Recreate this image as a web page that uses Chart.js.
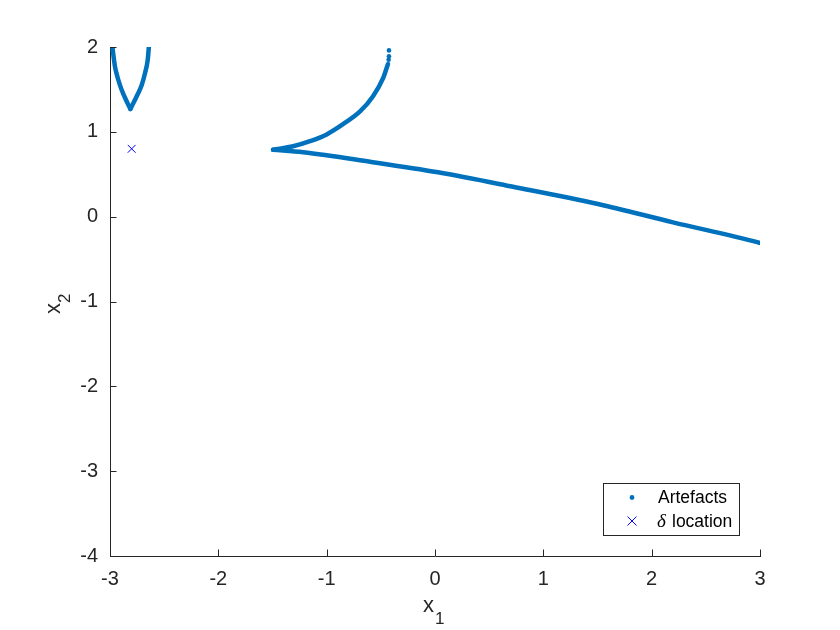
<!DOCTYPE html>
<html>
<head>
<meta charset="utf-8">
<script src="https://cdn.jsdelivr.net/npm/chart.js@4.4.1/dist/chart.umd.min.js"></script>
<style>
  html, body { margin: 0; padding: 0; background: #ffffff; }
  #wrap { width: 840px; height: 630px; }
</style>
</head>
<body>
<div id="wrap"><canvas id="c" width="840" height="630"></canvas></div>
<script>
// ---- data ----
const xTicks = [-3, -2, -1, 0, 1, 2, 3];
const yTicks = [-4, -3, -2, -1, 0, 1, 2];

// small cusp near x1 = -2.8 (left branch, then right branch)
const cuspLeftX  = [-2.98, -2.954, -2.923, -2.892, -2.852, -2.812];
const cuspLeftY  = [2.02, 1.768, 1.611, 1.493, 1.375, 1.27];
const cuspRightX = [-2.812, -2.785, -2.748, -2.707, -2.677, -2.652, -2.64];
const cuspRightY = [1.27, 1.336, 1.434, 1.552, 1.690, 1.847, 2.02];

// large curve: upper branch from the cusp at (-1.5, 0.8)
const upperX = [-1.495, -1.31, -1.154, -1.0, -0.849, -0.692, -0.572, -0.48, -0.434];
const upperY = [0.79, 0.83, 0.89, 0.97, 1.09, 1.24, 1.42, 1.63, 1.80];
// isolated dots at the top end of the upper branch
const upperDotsX = [-0.428, -0.425, -0.425];
const upperDotsY = [1.85, 1.89, 1.96];

// large curve: lower branch
const lowerX = [-1.495, -1.218, -0.6, 0.028, 0.72, 1.505, 2.197, 2.982, 3.0];
const lowerY = [0.788, 0.759, 0.648, 0.523, 0.353, 0.149, -0.067, -0.303, -0.31];

// delta location
const deltaX = [-2.8];
const deltaY = [0.8];

const legendLabels = ['Artefacts', 'location'];

// ---- helpers ----
const pts = (xs, ys) => xs.map((x, i) => ({ x: x, y: ys[i] }));
const BLUE = '#0072BD';
const AX = '#262626';
const FONT = '"Liberation Sans", Arial, Helvetica, sans-serif';
const SERIF = '"Liberation Serif", "Times New Roman", serif';

function curve(xs, ys) {
  return {
    label: legendLabels[0],
    data: pts(xs, ys),
    showLine: true,
    borderColor: BLUE,
    backgroundColor: BLUE,
    borderWidth: 4.5,
    pointRadius: 0,
    cubicInterpolationMode: 'monotone',
    clip: 0,
    borderCapStyle: 'round',
    borderJoinStyle: 'round'
  };
}

const overlay = {
  id: 'overlay',
  afterDraw(chart) {
    const ctx = chart.ctx;
    const xs = chart.scales.x, ys = chart.scales.y;
    const ca = chart.chartArea;
    ctx.save();
    // inward tick marks
    ctx.strokeStyle = AX;
    ctx.lineWidth = 1;
    ctx.beginPath();
    xTicks.forEach(v => {
      const p = Math.round(xs.getPixelForValue(v)) + 0.5;
      ctx.moveTo(p, ca.bottom);
      ctx.lineTo(p, ca.bottom - 6.5);
    });
    yTicks.forEach(v => {
      const p = Math.round(ys.getPixelForValue(v)) + 0.5;
      ctx.moveTo(ca.left, p);
      ctx.lineTo(ca.left + 6.5, p);
    });
    ctx.stroke();

    // axis titles with subscripts
    ctx.fillStyle = AX;
    ctx.textBaseline = 'alphabetic';
    ctx.textAlign = 'left';
    ctx.font = '22px ' + FONT;
    ctx.fillText('x', 423, 612);
    ctx.font = '17px ' + FONT;
    ctx.fillText('1', 435, 624);

    ctx.save();
    ctx.translate(60, 305);
    ctx.rotate(-Math.PI / 2);
    ctx.font = '22px ' + FONT;
    ctx.fillText('x', -9, 0);
    ctx.font = '17px ' + FONT;
    ctx.fillText('2', 2, 10);
    ctx.restore();

    // legend
    const lx = 603.5, ly = 483.5, lw = 136, lh = 52;
    ctx.fillStyle = '#ffffff';
    ctx.fillRect(lx, ly, lw, lh);
    ctx.strokeStyle = AX;
    ctx.lineWidth = 1;
    ctx.strokeRect(lx, ly, lw, lh);
    ctx.fillStyle = BLUE;
    ctx.beginPath();
    ctx.arc(632, 497.5, 2.4, 0, Math.PI * 2);
    ctx.fill();
    ctx.strokeStyle = '#0000FF';
    ctx.lineWidth = 1;
    ctx.beginPath();
    ctx.moveTo(627.5, 516.5); ctx.lineTo(636.5, 525.5);
    ctx.moveTo(636.5, 516.5); ctx.lineTo(627.5, 525.5);
    ctx.stroke();
    ctx.fillStyle = '#000000';
    ctx.textBaseline = 'middle';
    ctx.font = '17.5px ' + FONT;
    ctx.fillText(legendLabels[0], 658, 498);
    ctx.font = 'italic 19px ' + SERIF;
    ctx.fillText('\u03B4', 657, 522);
    ctx.font = '17.5px ' + FONT;
    ctx.fillText(legendLabels[1], 672, 522);
    ctx.restore();
  }
};

new Chart(document.getElementById('c'), {
  type: 'scatter',
  data: {
    datasets: [
      curve(cuspLeftX, cuspLeftY),
      curve(cuspRightX, cuspRightY),
      curve(upperX, upperY),
      curve(lowerX, lowerY),
      {
        label: legendLabels[0],
        data: pts(upperDotsX, upperDotsY),
        pointRadius: 2.3,
        pointBackgroundColor: BLUE,
        pointBorderWidth: 0,
        showLine: false,
        clip: 0
      },
      {
        label: '\u03B4 ' + legendLabels[1],
        data: pts(deltaX, deltaY),
        pointStyle: 'crossRot',
        pointRadius: 5.5,
        pointBorderColor: '#0000FF',
        pointBorderWidth: 1,
        showLine: false
      }
    ]
  },
  options: {
    responsive: false,
    animation: false,
    devicePixelRatio: 1,
    layout: { padding: { left: 0, top: 47, right: 80, bottom: 0 } },
    plugins: { legend: { display: false }, tooltip: { enabled: false } },
    scales: {
      x: {
        type: 'linear', min: -3, max: 3,
        afterFit: s => { s.height = 74; },
        afterBuildTicks: s => { s.ticks = xTicks.map(v => ({ value: v })); },
        grid: { display: false },
        border: { display: true, color: AX, width: 1 },
        ticks: { color: AX, padding: 3, font: { family: FONT, size: 20 } }
      },
      y: {
        type: 'linear', min: -4, max: 2,
        afterFit: s => { s.width = 110; },
        afterBuildTicks: s => { s.ticks = yTicks.map(v => ({ value: v })); },
        grid: { display: false },
        border: { display: true, color: AX, width: 1 },
        ticks: { color: AX, padding: 4, font: { family: FONT, size: 20 } }
      }
    }
  },
  plugins: [overlay]
});
</script>
</body>
</html>
